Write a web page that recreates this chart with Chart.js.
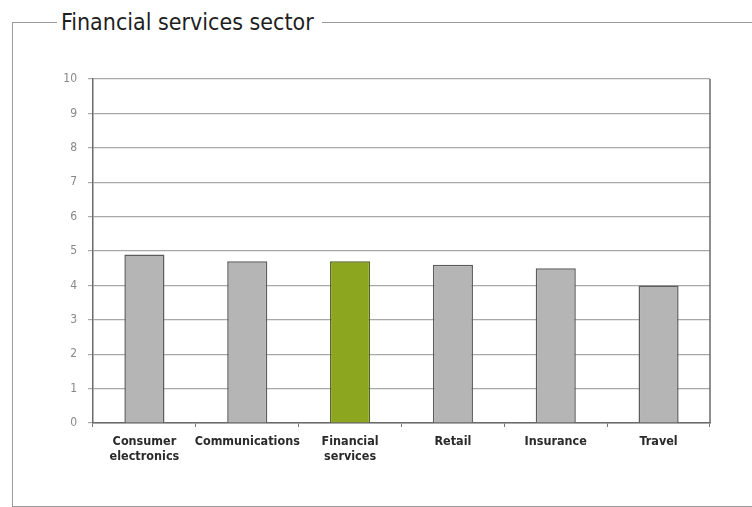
<!DOCTYPE html>
<html>
<head>
<meta charset="utf-8">
<script src="https://cdn.jsdelivr.net/npm/chart.js@4/dist/chart.umd.min.js"></script>
<style>
    html, body { margin: 0; padding: 0; background: #fff; }
    #wrap { position: relative; width: 752px; height: 507px; overflow: hidden; }
    fieldset {
        position: absolute; left: 12px; top: 10px; width: 780px; height: 495px;
        margin: 0; padding: 0; border: 1.5px solid #9a9a9a; border-right: none;
    }
    legend {
        margin-left: 44px; padding: 0 8px 0 4px;
        font-family: "Liberation Sans Narrow", "DejaVu Sans Condensed", sans-serif;
        font-size: 23px; color: #1e1e1e; line-height: 24px;
    }
    canvas { position: absolute; left: 0; top: 0; }
</style>
</head>
<body>
<div id="wrap">
    <fieldset><legend>Financial services sector</legend></fieldset>
    <canvas id="chart" width="752" height="507"></canvas>
</div>
<script>
// Sector scores
const sectors = [['Consumer', 'electronics'], 'Communications', ['Financial', 'services'], 'Retail', 'Insurance', 'Travel'];
const scores = [4.9, 4.7, 4.7, 4.6, 4.5, 4.0];
const highlight = 'Financial';

const grey = '#b5b5b5';
const greyEdge = '#5c5c5c';
const green = '#8ca71f';
const greenEdge = '#55651a';
const narrow = '"Liberation Sans Narrow", "DejaVu Sans Condensed", sans-serif';

const isHighlight = s => (Array.isArray(s) ? s[0] : s) === highlight;

// Closes the plot box on the right side
const rightBorder = {
    id: 'rightBorder',
    afterDraw(chart) {
        const { ctx, chartArea } = chart;
        ctx.save();
        ctx.strokeStyle = '#6a6a6a';
        ctx.lineWidth = 1.5;
        ctx.beginPath();
        ctx.moveTo(chartArea.right, chartArea.top);
        ctx.lineTo(chartArea.right, chartArea.bottom);
        ctx.stroke();
        ctx.restore();
    }
};

new Chart(document.getElementById('chart'), {
    type: 'bar',
    data: {
        labels: sectors,
        datasets: [{
            data: scores,
            backgroundColor: sectors.map(s => isHighlight(s) ? green : grey),
            borderColor: sectors.map(s => isHighlight(s) ? greenEdge : greyEdge),
            borderWidth: 1.5,
            barPercentage: 0.39,
            categoryPercentage: 1
        }]
    },
    options: {
        responsive: false,
        animation: false,
        layout: { padding: { left: 53, right: 42, top: 79, bottom: 34 } },
        plugins: { legend: { display: false }, tooltip: { enabled: false } },
        scales: {
            x: {
                afterFit: s => { s.height = 50; },
                grid: { offset: true, drawOnChartArea: false, tickLength: 4, color: '#777' },
                border: { color: '#6a6a6a', width: 1.5 },
                ticks: {
                    autoSkip: false,
                    maxRotation: 0,
                    minRotation: 0,
                    padding: 7,
                    color: '#2a2a2a',
                    font: { family: narrow, size: 12.5, weight: 'bold', lineHeight: 1.2 }
                }
            },
            y: {
                min: 0,
                max: 10,
                afterFit: s => { s.width = 40; },
                grid: { color: '#a8a8a8', lineWidth: 1.2, tickLength: 5 },
                border: { color: '#6a6a6a', width: 1.5 },
                ticks: {
                    stepSize: 1,
                    padding: 11,
                    color: '#888',
                    font: { family: narrow, size: 12 }
                }
            }
        }
    },
    plugins: [rightBorder]
});
</script>
</body>
</html>
